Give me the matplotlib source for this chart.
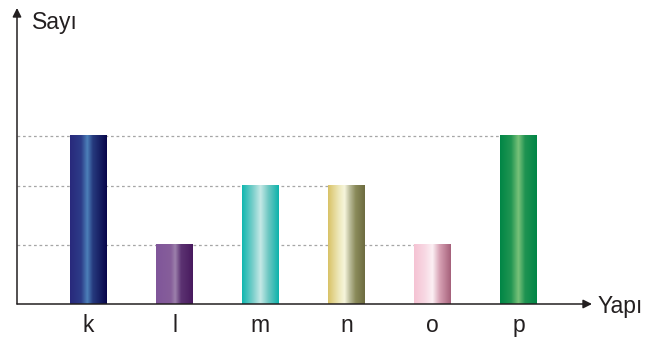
import numpy as np
import matplotlib
matplotlib.use('Agg')
import matplotlib.pyplot as plt
from matplotlib.colors import LinearSegmentedColormap

# data
categories = ['k', 'l', 'm', 'n', 'o', 'p']
values = [5.7, 2, 4, 4, 2, 5.7]

# left-to-right colour stops for each bar
bar_stops = [
    [(0.0, '#28297c'), (0.3, '#2d3c88'), (0.47, '#4c80ba'), (0.62, '#263a7e'), (1.0, '#08064a')],
    [(0.0, '#80569a'), (0.4, '#865e9a'), (0.52, '#9c80ac'), (0.68, '#5c3272'), (1.0, '#481a5e')],
    [(0.0, '#0fb7af'), (0.3, '#7ccfcb'), (0.5, '#c6e9e6'), (0.72, '#6cc7c2'), (1.0, '#0cb3ab')],
    [(0.0, '#d9c266'), (0.3, '#eee9bc'), (0.45, '#f6f5dc'), (0.6, '#b7b896'), (0.75, '#8a8a5a'), (1.0, '#6d6c40')],
    [(0.0, '#f5c3d3'), (0.3, '#f8d9e4'), (0.5, '#fcf0f4'), (0.7, '#d6a0b3'), (1.0, '#a5607a')],
    [(0.0, '#008646'), (0.3, '#219552'), (0.5, '#78c179'), (0.68, '#1f9352'), (1.0, '#008646')],
]

plt.rcParams['font.family'] = ['Liberation Sans', 'DejaVu Sans']

fig = plt.figure(figsize=(6.47, 3.38), dpi=100)
W, H = 647, 338
# axes box: x 17..592 px, y 8..304 px
ax = fig.add_axes([17 / W, (H - 304) / H, 575 / W, 296 / H])

x = np.arange(len(categories))
width = 0.43
bars = ax.bar(x, values, width=width, color='none', edgecolor='none', zorder=3)

grad = np.linspace(0, 1, 256).reshape(1, -1)
for rect, stops in zip(bars, bar_stops):
    cmap = LinearSegmentedColormap.from_list('g', stops)
    x0 = rect.get_x()
    ax.imshow(grad, cmap=cmap, aspect='auto', zorder=3,
              extent=(x0, x0 + rect.get_width(), 0, rect.get_height()))

xlim = (-71.5 / 86, 503.5 / 86)
ax.set_xlim(*xlim)
ax.set_ylim(0, 10.03)

# dotted guide lines from the y axis to the last bar of each height
for v in sorted(set(values)):
    last = max(i for i, val in enumerate(values) if val == v)
    ax.hlines(v, xlim[0], last - width / 2, colors='#a6a6a6',
              linestyles=(0, (2.2, 2.2)), linewidth=0.9, zorder=2)

for s in ax.spines.values():
    s.set_visible(False)
ax.set_yticks([])
ax.set_xticks(x)
ax.set_xticklabels(categories, fontsize=16.5, color='#231f20')
ax.tick_params(axis='x', length=0, pad=7)

# axes with arrows
arrow = dict(arrowstyle='-|>', color='#231f20', lw=1.1,
             shrinkA=0, shrinkB=0, mutation_scale=13)
ax.annotate('', xy=(0, 1), xytext=(0, 0), xycoords='axes fraction',
            arrowprops=arrow, annotation_clip=False)
ax.annotate('', xy=(1, 0), xytext=(0, 0), xycoords='axes fraction',
            arrowprops=arrow, annotation_clip=False)

fig.text(32 / W, (H - 29.5) / H, 'Sayı', fontsize=16.5, color='#231f20',
         ha='left', va='baseline')
fig.text(598 / W, (H - 313) / H, 'Yapı', fontsize=16.5, color='#231f20',
         ha='left', va='baseline')

fig.savefig('out.png', dpi=100)
